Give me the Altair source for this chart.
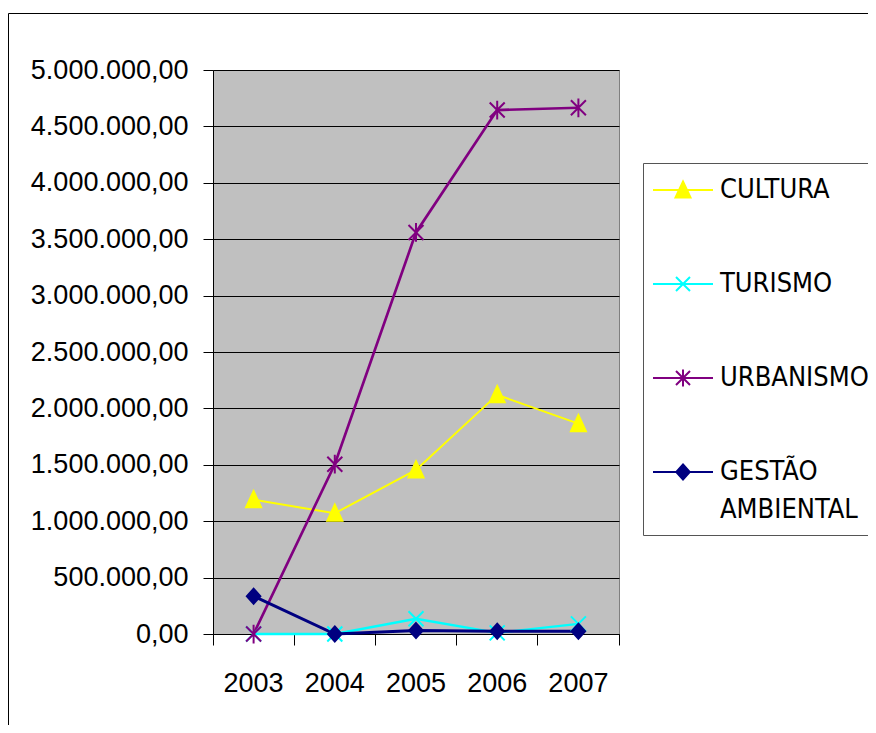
import altair as alt
import pandas as pd

# ---- data ----
years = ["2003", "2004", "2005", "2006", "2007"]
series_names = ["CULTURA", "TURISMO", "URBANISMO", "GESTÃO AMBIENTAL"]
cultura = [1190000, 1070000, 1455000, 2120000, 1865000]
turismo = [0, 0, 135000, 10000, 90000]
urbanismo = [0, 1505000, 3560000, 4645000, 4665000]
gestao = [335000, 0, 30000, 25000, 25000]
y_ticks = [0, 500000, 1000000, 1500000, 2000000, 2500000,
           3000000, 3500000, 4000000, 4500000, 5000000]

# ---- styles ----
colors = ["#FFFF00", "#00FFFF", "#800080", "#000080"]
line_widths = [3, 3, 2, 3]
marker_paths = [
    "M0,-1.15L1,1L-1,1Z",
    "M-1,-1L1,1M-1,1L1,-1",
    "M-1,-1L1,1M-1,1L1,-1M0,-1.25V1.25",
    "M0,-1L0.9,0L0,1L-0.9,0Z",
]
legend_paths = [
    "M-1.2,0H1.2M0,-0.34L0.3,0.3L-0.3,0.3Z",
    "M-1.2,0H1.2M-0.28,-0.28L0.28,0.28M-0.28,0.28L0.28,-0.28",
    "M-1.2,0H1.2M-0.28,-0.28L0.28,0.28M-0.28,0.28L0.28,-0.28M0,-0.34V0.34",
    "M-1.2,0H1.2M0,-0.3L0.27,0L0,0.3L-0.27,0ZM0,2.32",
]
FONT = "Liberation Sans, Arial, sans-serif"
LFONT = "DejaVu Sans Condensed, Liberation Sans, Arial, sans-serif"
FS = 27
LFS = 27

rows = []
for name, vals in zip(series_names, [cultura, turismo, urbanismo, gestao]):
    for yr, v in zip(years, vals):
        rows.append({"serie": name, "ano": yr, "valor": v})
df = pd.DataFrame(rows)

shape_expr = ""
for name, p in zip(series_names[:-1], legend_paths[:-1]):
    shape_expr += f"datum.value === '{name}' ? '{p}' : "
shape_expr += f"'{legend_paths[-1]}'"

# reversed domains for the channels that carry no legend (keeps them from
# being merged with the legend channel, which vega-lite does by domain)
rev_names = series_names[::-1]
rev_colors = colors[::-1]

x_enc = alt.X("ano:O", title=None,
              scale=alt.Scale(type="band", domain=years, paddingInner=0, paddingOuter=0),
              axis=alt.Axis(labelAngle=0, bandPosition=1, tickExtra=True, tickSize=11,
                            labelPadding=25, labelFont=FONT, labelFontSize=FS, labelLimit=0,
                            labelColor="black", tickColor="black", domainColor="black",
                            grid=False))
y_enc = alt.Y("valor:Q", title=None,
              scale=alt.Scale(domain=[0, 5000000], nice=False),
              axis=alt.Axis(values=y_ticks, format=",.2f", tickSize=10, labelPadding=15,
                            labelFont=FONT, labelFontSize=FS, labelColor="black", labelLimit=0,
                            tickColor="black", domainColor="black", grid=True,
                            gridColor="black", gridWidth=1))

legend = alt.Legend(
    title=None, orient="none", legendX=430, legendY=93,
    padding=1, symbolOffset=13, labelOffset=11, rowPadding=55,
    symbolSize=2500, symbolStrokeWidth=2, symbolOpacity=1,
    symbolType={"expr": shape_expr},
    labelFont=LFONT, labelFontSize=LFS, labelColor="black", labelLimit=0,
    labelExpr="datum.label === 'GESTÃO AMBIENTAL' ? ['GESTÃO', 'AMBIENTAL'] : datum.label",
    strokeColor="#555555", fillColor="white",
)

lines = alt.Chart(df).mark_line().encode(
    x=x_enc, y=y_enc,
    color=alt.Color("serie:N", scale=alt.Scale(domain=rev_names, range=rev_colors), legend=None),
    strokeWidth=alt.StrokeWidth("serie:N",
                                scale=alt.Scale(domain=rev_names, range=line_widths[::-1]),
                                legend=None),
    detail="serie:N",
)

points = alt.Chart(df).mark_point(filled=True, size=225, strokeWidth=2, opacity=1).encode(
    x=x_enc, y=y_enc,
    fill=alt.Fill("serie:N", scale=alt.Scale(domain=series_names, range=colors), legend=legend),
    stroke=alt.Stroke("serie:N", scale=alt.Scale(domain=series_names, range=colors), legend=legend),
    shape=alt.Shape("serie:N", scale=alt.Scale(domain=rev_names, range=marker_paths[::-1]),
                    legend=None),
)

frame = alt.Chart(alt.Data(values=[{"k": 1}])).mark_rect(
    fill=None, stroke="black", strokeWidth=1
).encode(
    x=alt.value(-204.5), x2=alt.value(900),
    y=alt.value(-56.5), y2=alt.value(900),
)

chart = alt.layer(frame, lines, points).properties(
    width=406, height=564,
    autosize=alt.AutoSizeParams(type="none"),
    padding={"left": 205, "top": 62, "right": 249, "bottom": 91},
    background="white",
).configure(
    locale=alt.Locale(number=alt.NumberLocale(decimal=",", thousands=".", grouping=[3],
                                              currency=["", ""])),
    view=alt.ViewConfig(fill="#C0C0C0", stroke="#808080", strokeWidth=1),
    style={"guide-label": {"lineHeight": 38}},
)

chart.save("out.html", embed_options={"renderer": "svg", "actions": False})
